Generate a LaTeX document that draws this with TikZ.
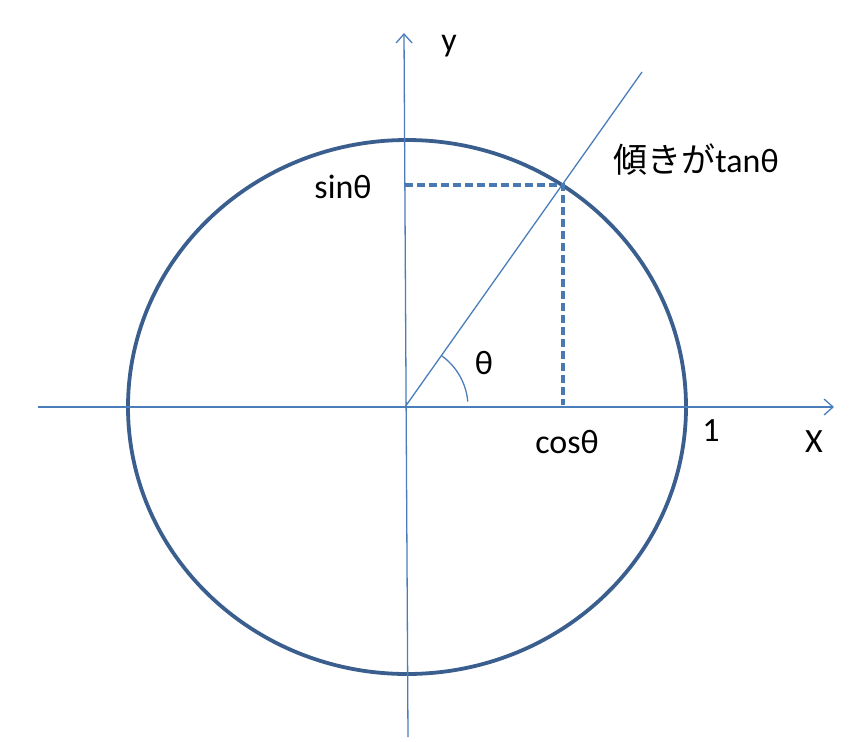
\documentclass[tikz,border=0pt]{standalone}
\usepackage{fontspec}
\setmainfont{Carlito}
\newfontfamily\jpfont{Noto Sans CJK JP}
\usetikzlibrary{arrows.meta}
\definecolor{circ}{HTML}{3A5F8E}
\definecolor{axis}{HTML}{4A7EBB}
\definecolor{dash}{HTML}{4A78B0}
\tikzset{
  axisline/.style={draw=axis, line width=1.3pt},
  axisarrow/.style={axisline, -{Straight Barb[length=9pt,width=16pt,line width=1.3pt]}},
  unitcirc/.style={draw=circ, line width=3.8pt},
  guide/.style={draw=dash, line width=3.4pt, dash pattern=on 8pt off 4pt},
  lbl/.style={inner sep=0pt, font=\fontsize{34}{40}\selectfont},
}
\begin{document}
\begin{tikzpicture}[x=1pt,y=-1pt]
\useasboundingbox (0,0) rectangle (868,742);
% key points
\coordinate (O) at (405,407);
\coordinate (xl) at (38,407);
\coordinate (xr) at (834,407);
\coordinate (yb) at (408,737);
\coordinate (yt) at (404,33);
\coordinate (P) at (563,185);
\coordinate (Sy) at (405,185);
\coordinate (Cx) at (563,405);
\coordinate (Lend) at (642,72);
% circle
\draw[unitcirc] (407,407) ellipse [x radius=279, y radius=267];
% axes
\draw[axisarrow] (xl) -- (xr);
\draw[axisarrow] (yb) -- (yt);
% slope line
\draw[axisline] (O) -- (Lend);
% angle arc
\draw[axisline] ([shift={(-54.4:63)}]O) arc[start angle=-54.4, end angle=-5, radius=63];
% dashed guides
\draw[guide] (Sy) -- (P) -- (Cx);
% labels
\node[lbl] (ylab) at (449,46) {y};
\node[lbl] (tanlab) at (696,160) {{\jpfont 傾きが}tanθ};
\node[lbl] (sinlab) at (343,187) {sinθ};
\node[lbl] (thlab) at (484,363) {θ};
\node[lbl] (coslab) at (567,442) {cosθ};
\node[lbl] (onelab) at (711,431) {1};
\node[lbl] (xlab) at (814,442) {X};
\end{tikzpicture}
\end{document}
